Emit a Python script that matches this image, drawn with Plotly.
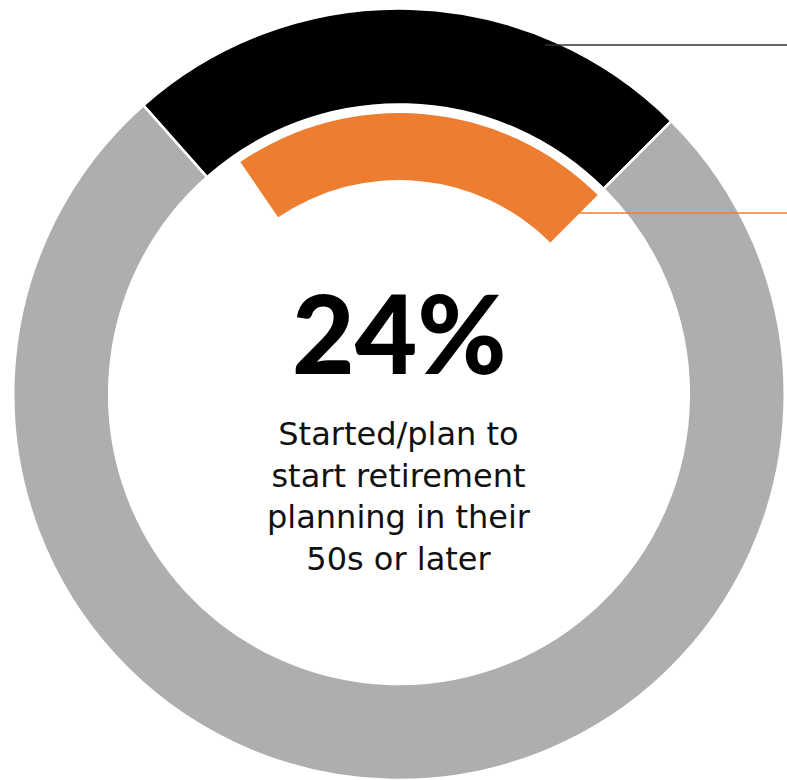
import plotly.graph_objects as go

# Outer ring: share who started/plan to start planning in their 50s or later
ring_labels = ["50s or later", "Earlier"]
ring_values = [24, 76]
ring_colors = ["#000000", "#AEAEAE"]

# Inner arc: comparison share
arc_labels = ["Comparison", "Rest"]
arc_values = [22, 78]
arc_colors = ["#ED7D31", "rgba(0,0,0,0)"]

headline = "24%"
caption_lines = ["Started/plan to", "start retirement", "planning in their", "50s or later"]

W, H = 787, 780
cx, cy = 399, 394.5          # ring centre in pixels (from top-left)
R_outer, r_outer = 386, 290  # outer ring radii
R_arc, r_arc = 281.5, 214.5  # inner arc radii


def dom(radius):
    return dict(
        x=[(cx - radius) / W, (cx + radius) / W],
        y=[max(0, (H - cy - radius) / H), min(1, (H - cy + radius) / H)],
    )


fig = go.Figure()
fig.add_trace(go.Pie(
    labels=ring_labels, values=ring_values, sort=False,
    direction="clockwise", rotation=-41.5,
    hole=r_outer / R_outer, domain=dom(R_outer),
    marker=dict(colors=ring_colors, line=dict(color="white", width=2.5)),
    textinfo="none", hoverinfo="skip", showlegend=False,
))
fig.add_trace(go.Pie(
    labels=arc_labels, values=arc_values, sort=False,
    direction="clockwise", rotation=-34.3,
    hole=r_arc / R_arc, domain=dom(R_arc),
    marker=dict(colors=arc_colors, line=dict(width=0)),
    textinfo="none", hoverinfo="skip", showlegend=False,
))

# Leader lines towards the labels at the right edge
fig.add_shape(type="line", xref="paper", yref="paper",
              x0=545 / W, x1=1, y0=1 - 45 / H, y1=1 - 45 / H,
              line=dict(color="#333333", width=1.3))
fig.add_shape(type="line", xref="paper", yref="paper",
              x0=565 / W, x1=1, y0=1 - 213 / H, y1=1 - 213 / H,
              line=dict(color="#ED7D31", width=1.3))

fig.add_annotation(
    text=headline, x=cx / W, y=1 - 332 / H, xref="paper", yref="paper",
    xanchor="center", yanchor="middle", showarrow=False,
    font=dict(family="Lato", size=108, color="#000000", weight=900),
)
fig.add_annotation(
    text="<br>".join(caption_lines), x=cx / W, y=1 - 497 / H,
    xref="paper", yref="paper", xanchor="center", yanchor="middle",
    showarrow=False, align="center",
    font=dict(family="DejaVu Sans", size=32, color="#111111"),
)

fig.update_layout(
    width=W, height=H, margin=dict(l=0, r=0, t=0, b=0),
    paper_bgcolor="white", plot_bgcolor="white",
)
fig.write_html("out.html")
